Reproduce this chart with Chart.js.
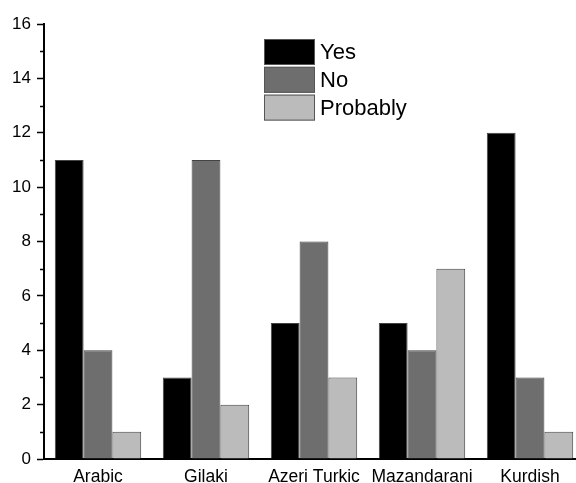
<!DOCTYPE html>
<html>
<head>
    <title>Yes / No / Probably by language</title>
    <script src="https://cdn.jsdelivr.net/npm/chart.js"></script>
    <style>
        body { margin: 0; overflow: hidden; background: #fff; }
    </style>
</head>
<body>
    <canvas id="lang-bar-chart" width="600" height="483"></canvas>

    <script>
        const languages = ['Arabic', 'Gilaki', 'Azeri Turkic', 'Mazandarani', 'Kurdish'];
        const yesValues = [11, 3, 5, 5, 12];
        const noValues = [4, 11, 8, 4, 3];
        const probablyValues = [1, 2, 3, 7, 1];
        const yTicks = [0, 2, 4, 6, 8, 10, 12, 14, 16];

        // minor ticks on the y axis (odd values), drawn after the axes
        const minorTicks = {
            id: 'minorTicks',
            afterDraw(chart) {
                const ctx = chart.ctx;
                const y = chart.scales.y;
                ctx.save();
                ctx.strokeStyle = '#000';
                ctx.lineWidth = 1.5;
                for (let v = 1; v < 16; v += 2) {
                    const py = Math.round(y.getPixelForValue(v)) + 0.5;
                    ctx.beginPath();
                    ctx.moveTo(y.right - 4, py);
                    ctx.lineTo(y.right, py);
                    ctx.stroke();
                }
                ctx.restore();
            }
        };

        // legend block inside the plot
        const boxLegend = {
            id: 'boxLegend',
            afterDraw(chart) {
                const ctx = chart.ctx;
                ctx.save();
                ctx.font = '22px "Liberation Sans", Arial, sans-serif';
                ctx.textBaseline = 'middle';
                chart.data.datasets.forEach((ds, i) => {
                    const top = 39 + i * 27.8;
                    ctx.fillStyle = ds.backgroundColor;
                    ctx.fillRect(264, top, 51, 26);
                    ctx.strokeStyle = '#555';
                    ctx.lineWidth = 1;
                    ctx.strokeRect(264.5, top + 0.5, 50, 25);
                    ctx.fillStyle = '#000';
                    ctx.fillText(ds.label, 320, top + 14);
                });
                ctx.restore();
            }
        };

        const ctx = document.getElementById('lang-bar-chart').getContext('2d');
        new Chart(ctx, {
            type: 'bar',
            data: {
                labels: languages,
                datasets: [
                    { label: 'Yes', data: yesValues, backgroundColor: '#000000' },
                    { label: 'No', data: noValues, backgroundColor: '#6e6e6e' },
                    { label: 'Probably', data: probablyValues, backgroundColor: '#bbbbbb' }
                ]
            },
            options: {
                responsive: false,
                animation: false,
                layout: { padding: { top: 24, right: 16, left: 0, bottom: 0 } },
                datasets: {
                    bar: {
                        categoryPercentage: 0.8,
                        barPercentage: 1.0,
                        borderWidth: 1,
                        borderColor: '#444',
                        borderSkipped: 'bottom'
                    }
                },
                plugins: {
                    legend: { display: false },
                    tooltip: { enabled: false }
                },
                scales: {
                    x: {
                        grid: { drawOnChartArea: false, drawTicks: false },
                        border: { color: '#000', width: 2 },
                        ticks: {
                            color: '#000',
                            padding: 8,
                            maxRotation: 0,
                            autoSkip: false,
                            font: { family: '"Liberation Sans", Arial, sans-serif', size: 17.5 }
                        },
                        afterFit(scale) { scale.height = 24; }
                    },
                    y: {
                        min: 0,
                        max: 16,
                        afterBuildTicks(scale) {
                            scale.ticks = yTicks.map(v => ({ value: v }));
                        },
                        grid: {
                            drawOnChartArea: false,
                            drawTicks: true,
                            tickLength: 7,
                            tickColor: '#000',
                            tickWidth: 1.5
                        },
                        border: { color: '#000', width: 2 },
                        ticks: {
                            color: '#000',
                            padding: 6,
                            font: { family: '"Liberation Sans", Arial, sans-serif', size: 17 }
                        },
                        afterFit(scale) { scale.width = 44; }
                    }
                }
            },
            plugins: [minorTicks, boxLegend]
        });
    </script>
</body>
</html>
